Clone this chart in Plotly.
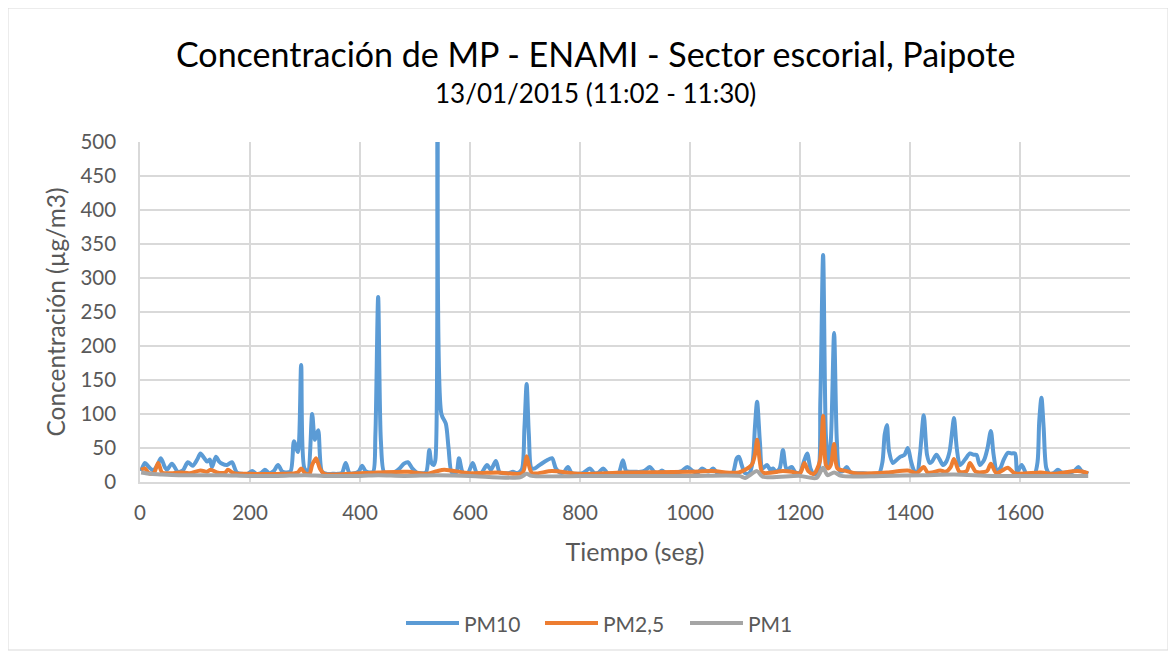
import plotly.graph_objects as go

# ---------------- data ----------------
t_pm10 = [2, 9, 16, 24, 31, 38, 45, 49, 58, 69, 78, 87, 96, 104, 110, 116, 122, 127, 131, 138,
          144, 149, 158, 167, 176, 185, 195, 204, 212, 220, 227, 235, 243, 251, 259, 267, 274, 280, 287, 293,
          299, 305, 313, 318, 324, 331, 340, 350, 360, 367, 374, 381, 390, 398, 404, 410, 418, 424, 428, 433,
          438, 444, 452, 462, 472, 480, 487, 495, 503, 512, 520, 526, 530, 534, 537, 541, 548, 556, 561, 567,
          575, 580, 587, 596, 605, 612, 620, 631, 638, 647, 654, 662, 670, 678, 686, 694, 699, 703, 707, 712,
          718, 725, 732, 740, 749, 756, 763, 770, 778, 785, 795, 805, 818, 826, 834, 842, 850, 860, 870, 878,
          884, 892, 900, 910, 918, 927, 935, 942, 949, 956, 965, 975, 985, 995, 1005, 1014, 1022, 1030, 1036, 1042,
          1050, 1060, 1070, 1078, 1085, 1089, 1094, 1100, 1108, 1114, 1118, 1122, 1127, 1132, 1140, 1146, 1151, 1156, 1163, 1169,
          1175, 1180, 1185, 1192, 1200, 1207, 1213, 1219, 1225, 1232, 1237, 1242, 1247, 1251, 1256, 1262, 1267, 1272, 1278, 1285,
          1292, 1303, 1315, 1325, 1335, 1344, 1350, 1354, 1358, 1362, 1369, 1375, 1382, 1390, 1396, 1402, 1408, 1413, 1418, 1425,
          1431, 1436, 1440, 1448, 1454, 1460, 1466, 1472, 1476, 1480, 1485, 1491, 1500, 1509, 1516, 1521, 1527, 1533, 1536, 1541,
          1547, 1552, 1558, 1564, 1570, 1578, 1585, 1591, 1595, 1603, 1612, 1620, 1627, 1632, 1635, 1639, 1643, 1648, 1654, 1661,
          1669, 1676, 1685, 1692, 1700, 1706, 1712, 1718, 1724]
pm10 = [16, 28, 22, 17, 24, 35, 22, 18, 27, 15, 17, 29, 24, 33, 42, 36, 30, 33, 22, 37,
        30, 27, 25, 29, 14, 12, 12, 16, 12, 13, 18, 13, 16, 25, 15, 14, 16, 60, 44, 172,
        20, 16, 100, 62, 76, 15, 12, 12, 12, 13, 28, 13, 13, 16, 24, 16, 14, 15, 70, 272,
        60, 14, 13, 14, 20, 27, 29, 20, 14, 13, 14, 47, 28, 25, 32, 540, 100, 86, 50, 14,
        14, 35, 14, 13, 28, 14, 13, 25, 18, 31, 14, 13, 13, 15, 13, 18, 80, 144, 70, 20,
        20, 24, 28, 32, 35, 20, 14, 14, 22, 13, 12, 13, 20, 13, 14, 20, 13, 12, 13, 32,
        16, 15, 15, 15, 17, 22, 15, 13, 17, 13, 13, 14, 16, 22, 16, 14, 20, 16, 16, 20,
        13, 13, 13, 14, 35, 37, 25, 13, 13, 30, 80, 118, 60, 20, 25, 18, 20, 15, 20, 47,
        20, 20, 22, 14, 14, 30, 42, 20, 12, 13, 120, 334, 70, 25, 60, 219, 60, 16, 16, 22,
        14, 13, 13, 12, 12, 13, 30, 70, 84, 45, 28, 32, 37, 40, 50, 30, 16, 14, 40, 98,
        40, 28, 30, 40, 33, 25, 30, 45, 70, 94, 50, 25, 33, 42, 40, 40, 25, 30, 35, 50,
        75, 40, 17, 20, 32, 43, 42, 42, 15, 25, 12, 12, 13, 30, 90, 124, 80, 20, 12, 13,
        18, 14, 14, 14, 17, 22, 16, 14, 12]

t_pm25 = [2, 9, 16, 25, 33, 40, 50, 60, 75, 90, 110, 122, 128, 140, 155, 160, 170, 200, 260, 287,
          293, 300, 308, 313, 320, 327, 335, 380, 433, 487, 520, 540, 553, 600, 650, 695, 700, 703, 707, 713,
          749, 800, 880, 1000, 1040, 1089, 1112, 1118, 1122, 1127, 1132, 1169, 1185, 1200, 1208, 1215, 1225, 1236, 1242, 1247,
          1251, 1256, 1262, 1268, 1285, 1300, 1358, 1396, 1412, 1425, 1432, 1440, 1455, 1465, 1474, 1480, 1490, 1503, 1509, 1520,
          1540, 1547, 1557, 1578, 1590, 1638, 1660, 1705, 1724]
pm25 = [18, 20, 13, 13, 28, 14, 13, 13, 14, 13, 17, 15, 18, 14, 14, 18, 13, 12, 12, 14,
        20, 13, 12, 25, 35, 20, 12, 12, 14, 15, 12, 16, 18, 13, 14, 13, 25, 38, 25, 13,
        16, 12, 14, 15, 16, 14, 25, 40, 62, 30, 14, 16, 15, 13, 28, 16, 12, 30, 97, 25,
        20, 25, 56, 20, 16, 13, 14, 17, 13, 22, 14, 14, 17, 15, 22, 34, 15, 16, 28, 15,
        16, 27, 13, 21, 13, 14, 12, 16, 13]

t_pm1 = [2, 20, 40, 70, 100, 150, 200, 250, 300, 335, 400, 433, 480, 540, 600, 691, 703, 712, 800, 900,
         1000, 1090, 1100, 1122, 1132, 1200, 1230, 1242, 1250, 1262, 1275, 1350, 1425, 1480, 1550, 1638, 1724]
pm1 = [14, 12, 11, 10, 10, 10, 9, 9, 10, 9, 9, 10, 9, 10, 9, 7, 12, 9, 9, 9,
       9, 9, 6, 16, 8, 9, 6, 21, 10, 14, 9, 9, 10, 11, 9, 9, 9]

x_ticks = [0, 200, 400, 600, 800, 1000, 1200, 1400, 1600]
y_ticks = [0, 50, 100, 150, 200, 250, 300, 350, 400, 450, 500]

series_names = ["PM10", "PM2,5", "PM1"]
series_colors = ["#5B9BD5", "#ED7D31", "#A5A5A5"]

title_text = "Concentración de MP - ENAMI - Sector escorial, Paipote"
subtitle_text = "13/01/2015 (11:02 - 11:30)"

# ---------------- figure ----------------
FONT = "Lato"
TXT = "#595959"
W, H = 1176, 655
OFF = 8  # page body margin: the figure is drawn 8px right/down of the window corner
# desired plot-area box in window pixels: x 140..1130, y 142..482
PX0, PX1, PY0, PY1 = 140, 1130, 142, 482
L, T = PX0 - OFF, PY0 - OFF
R = W - (PX1 - OFF)
B = H - (PY1 - OFF)
PW, PH = PX1 - PX0, PY1 - PY0


def px_to_paper_x(px):
    return (px - PX0) / PW


def px_to_paper_y(py):
    return (PY1 - py) / PH


fig = go.Figure()
data = [(t_pm10, pm10), (t_pm25, pm25), (t_pm1, pm1)]
for name, col, (xs, ys) in zip(series_names, series_colors, data):
    fig.add_trace(go.Scatter(x=xs, y=ys, mode="lines", name=name, showlegend=False,
                             line=dict(color=col, width=4, shape="spline", smoothing=0.8)))

fig.update_layout(
    width=W, height=H,
    margin=dict(l=L, r=R, t=T, b=B),
    paper_bgcolor="white", plot_bgcolor="white",
    font=dict(family=FONT, color=TXT, size=20),
    showlegend=False,
    xaxis=dict(range=[0, 1800], tickmode="array", tickvals=x_ticks,
               showgrid=True, gridcolor="#D9D9D9", gridwidth=1.5,
               showline=True, linecolor="#D9D9D9", linewidth=1.5,
               zeroline=False, ticks="", tickfont=dict(size=20.5, color=TXT),
               ticklabelstandoff=12,
               title=dict(text="Tiempo (seg)", font=dict(size=25, color=TXT), standoff=20)),
    yaxis=dict(range=[0, 500], tickmode="array", tickvals=y_ticks,
               showgrid=True, gridcolor="#D9D9D9", gridwidth=1.5,
               showline=True, linecolor="#D9D9D9", linewidth=1.5,
               zeroline=False, ticks="", tickfont=dict(size=20.5, color=TXT),
               ticklabelstandoff=18,
               title=dict(text="Concentración (µg/m3)", font=dict(size=24.5, color=TXT), standoff=8)),
)

fig.add_annotation(text=title_text, xref="paper", yref="paper",
                   x=px_to_paper_x(595), y=px_to_paper_y(53), xanchor="center", yanchor="middle",
                   showarrow=False, font=dict(size=34, color="#000000", family=FONT))
fig.add_annotation(text=subtitle_text, xref="paper", yref="paper",
                   x=px_to_paper_x(595), y=px_to_paper_y(93), xanchor="center", yanchor="middle",
                   showarrow=False, font=dict(size=26, color="#000000", family=FONT))

# legend (drawn like the original: long line samples followed by the label)
LEG_Y = 623
leg_line_x = [(406, 459), (545, 598), (690, 743)]
for name, col, (lx0, lx1) in zip(series_names, series_colors, leg_line_x):
    fig.add_shape(type="line", xref="paper", yref="paper",
                  x0=px_to_paper_x(lx0), x1=px_to_paper_x(lx1),
                  y0=px_to_paper_y(LEG_Y), y1=px_to_paper_y(LEG_Y),
                  line=dict(color=col, width=4))
    fig.add_annotation(text=name, xref="paper", yref="paper",
                       x=px_to_paper_x(lx1 + 3), y=px_to_paper_y(LEG_Y),
                       xanchor="left", yanchor="middle", showarrow=False,
                       font=dict(size=21, color=TXT, family=FONT))

# outer chart border
fig.add_shape(type="rect", xref="paper", yref="paper",
              x0=px_to_paper_x(8), x1=px_to_paper_x(1168),
              y0=px_to_paper_y(650), y1=px_to_paper_y(8),
              line=dict(color="#D9D9D9", width=1), layer="below")

fig.write_html("out.html")
